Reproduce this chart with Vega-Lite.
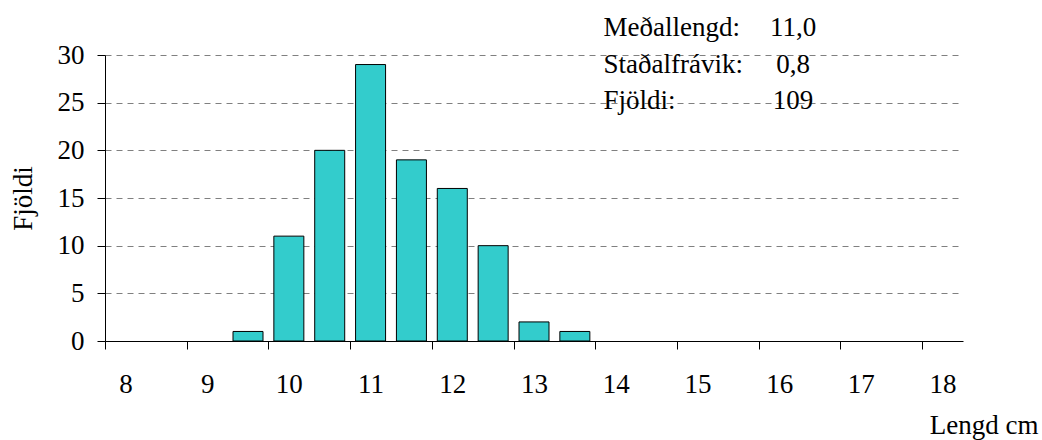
{
  "$schema": "https://vega.github.io/schema/vega-lite/v6.json",
  "width": 858,
  "height": 286,
  "autosize": {"type": "none"},
  "padding": {"left": 105, "top": 55, "right": 79, "bottom": 99},
  "background": "white",
  "config": {
    "view": {"stroke": null},
    "font": "Liberation Serif",
    "text": {"font": "Liberation Serif"}
  },
  "layer": [
    {
      "data": {
        "values": [
          {"lengd": 9.5, "fjoldi": 1},
          {"lengd": 10, "fjoldi": 11},
          {"lengd": 10.5, "fjoldi": 20},
          {"lengd": 11, "fjoldi": 29},
          {"lengd": 11.5, "fjoldi": 19},
          {"lengd": 12, "fjoldi": 16},
          {"lengd": 12.5, "fjoldi": 10},
          {"lengd": 13, "fjoldi": 2},
          {"lengd": 13.5, "fjoldi": 1}
        ]
      },
      "mark": {"type": "bar", "width": 30, "fill": "#33CCCC", "stroke": "#000000", "strokeWidth": 1},
      "encoding": {
        "x": {
          "field": "lengd",
          "type": "quantitative",
          "scale": {"domain": [7.75, 18.25], "nice": false, "zero": false, "padding": 0},
          "axis": {
            "values": [7.75, 8.75, 9.75, 10.75, 11.75, 12.75, 13.75, 14.75, 15.75, 16.75, 17.75],
            "labelExpr": "format(datum.value + 0.25, 'd')",
            "labelOffset": 20.43,
            "labelFlush": false,
            "labelOverlap": false,
            "labelBound": false,
            "labelFont": "Liberation Serif",
            "labelFontSize": 27,
            "labelColor": "#000000",
            "labelPadding": 22,
            "labelBaseline": "top",
            "domain": true,
            "ticks": true,
            "tickSize": 8,
            "tickWidth": 1,
            "tickColor": "#000000",
            "domainColor": "#000000",
            "domainWidth": 1,
            "grid": false,
            "title": "Lengd cm",
            "titleFont": "Liberation Serif",
            "titleFontSize": 27,
            "titleFontWeight": "normal",
            "titleColor": "#000000",
            "titleAlign": "right",
            "titleBaseline": "alphabetic",
            "titleX": 933,
            "titleY": 92
          }
        },
        "y": {
          "field": "fjoldi",
          "type": "quantitative",
          "scale": {"domain": [0, 30], "nice": false, "zero": true},
          "axis": {
            "values": [0, 5, 10, 15, 20, 25, 30],
            "labelFont": "Liberation Serif",
            "labelFontSize": 27,
            "labelColor": "#000000",
            "labelPadding": 13,
            "domain": true,
            "ticks": true,
            "tickSize": 8,
            "tickWidth": 1,
            "tickColor": "#000000",
            "domainColor": "#000000",
            "domainWidth": 1,
            "grid": true,
            "gridColor": "#808080",
            "gridDash": [6, 5],
            "gridWidth": 1,
            "gridOpacity": 1,
            "title": "Fjöldi",
            "titleFont": "Liberation Serif",
            "titleFontSize": 27,
            "titleFontWeight": "normal",
            "titleColor": "#000000",
            "titleAngle": -90,
            "titleAlign": "center",
            "titleBaseline": "alphabetic",
            "titleX": -74,
            "titleY": 143
          }
        }
      }
    },
    {
      "data": {
        "values": [
          {"line": 1, "stat": "Meðallengd:", "value": "11,0"},
          {"line": 2, "stat": "Staðalfrávik:", "value": "0,8"},
          {"line": 3, "stat": "Fjöldi:", "value": "109"}
        ]
      },
      "layer": [
        {
          "mark": {"type": "text", "align": "left", "baseline": "alphabetic", "fontSize": 27, "font": "Liberation Serif", "color": "#000000"},
          "encoding": {
            "x": {"datum": 13.85, "type": "quantitative", "scale": {"domain": [7.75, 18.25], "nice": false, "zero": false, "padding": 0}, "axis": null},
            "y": {"field": "line", "type": "quantitative", "scale": {"domain": [1.5205, 9.356], "reverse": true, "nice": false, "zero": false}, "axis": null},
            "text": {"field": "stat"}
          }
        },
        {
          "mark": {"type": "text", "align": "center", "baseline": "alphabetic", "fontSize": 27, "font": "Liberation Serif", "color": "#000000"},
          "encoding": {
            "x": {"datum": 16.17, "type": "quantitative", "scale": {"domain": [7.75, 18.25], "nice": false, "zero": false, "padding": 0}, "axis": null},
            "y": {"field": "line", "type": "quantitative", "scale": {"domain": [1.5205, 9.356], "reverse": true, "nice": false, "zero": false}, "axis": null},
            "text": {"field": "value"}
          }
        }
      ],
      "resolve": {"axis": {"x": "independent"}}
    }
  ],
  "resolve": {"scale": {"y": "independent"}, "axis": {"x": "independent"}}
}
